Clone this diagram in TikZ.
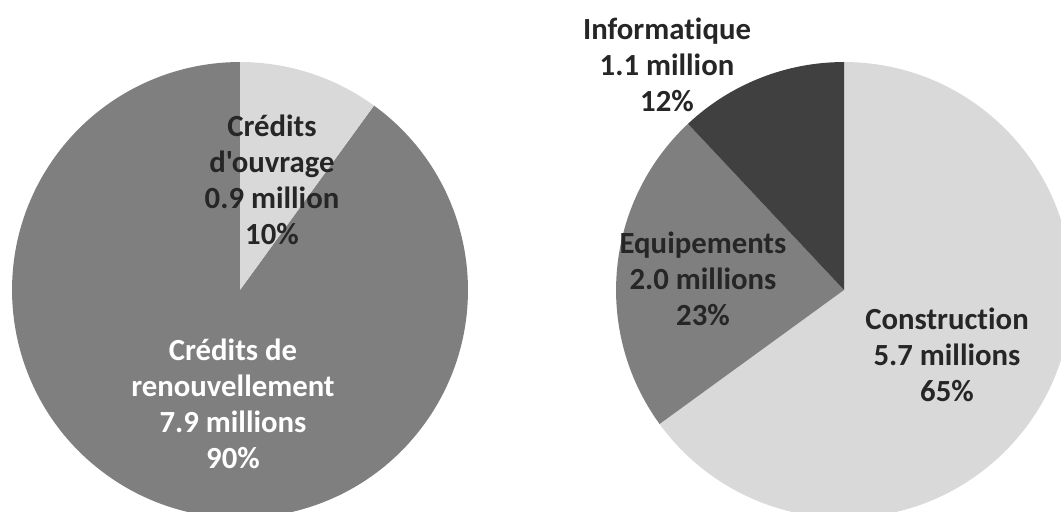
\documentclass[tikz,border=0pt]{standalone}
\usepackage{fontspec}
\setmainfont{Carlito}[Ligatures={TeXOff,CommonOff}]
\definecolor{sliceLight}{HTML}{D9D9D9}
\definecolor{sliceMid}{HTML}{7F7F7F}
\definecolor{sliceDark}{HTML}{404040}
\definecolor{labelInk}{HTML}{262626}
\begin{document}
\begin{tikzpicture}[x=0.02cm, y=0.02cm,
    slicelabel/.style={align=center, font=\fontsize{17.5}{20.5}\selectfont\bfseries, text=labelInk}]
    \useasboundingbox (0,0) rectangle (1061,511);
    \clip (0,0) rectangle (1061,511);

    % left pie
    \coordinate (lc) at (240,221);
    \fill[sliceMid] (lc) -- ++(54:4.56cm) arc[start angle=54, end angle=-270, radius=4.56cm] -- cycle;
    \fill[sliceLight] (lc) -- ++(90:4.56cm) arc[start angle=90, end angle=54, radius=4.56cm] -- cycle;
    \node[slicelabel] (ouvrage) at (272,331) {Crédits\\d'ouvrage\\0.9 million\\10\%};
    \node[slicelabel, text=white] (renouv) at (233,107) {Crédits de\\renouvellement\\7.9 millions\\90\%};

    % right pie
    \coordinate (rc) at (844,221);
    \fill[sliceLight] (rc) -- ++(90:4.56cm) arc[start angle=90, end angle=-144, radius=4.56cm] -- cycle;
    \fill[sliceMid] (rc) -- ++(216:4.56cm) arc[start angle=216, end angle=133.2, radius=4.56cm] -- cycle;
    \fill[sliceDark] (rc) -- ++(133.2:4.56cm) arc[start angle=133.2, end angle=90, radius=4.56cm] -- cycle;
    \node[slicelabel] (info) at (667,446) {Informatique\\1.1 million\\12\%};
    \node[slicelabel] (equip) at (703,232) {Equipements\\2.0 millions\\23\%};
    \node[slicelabel] (constr) at (947,156) {Construction\\5.7 millions\\65\%};
\end{tikzpicture}
\end{document}
